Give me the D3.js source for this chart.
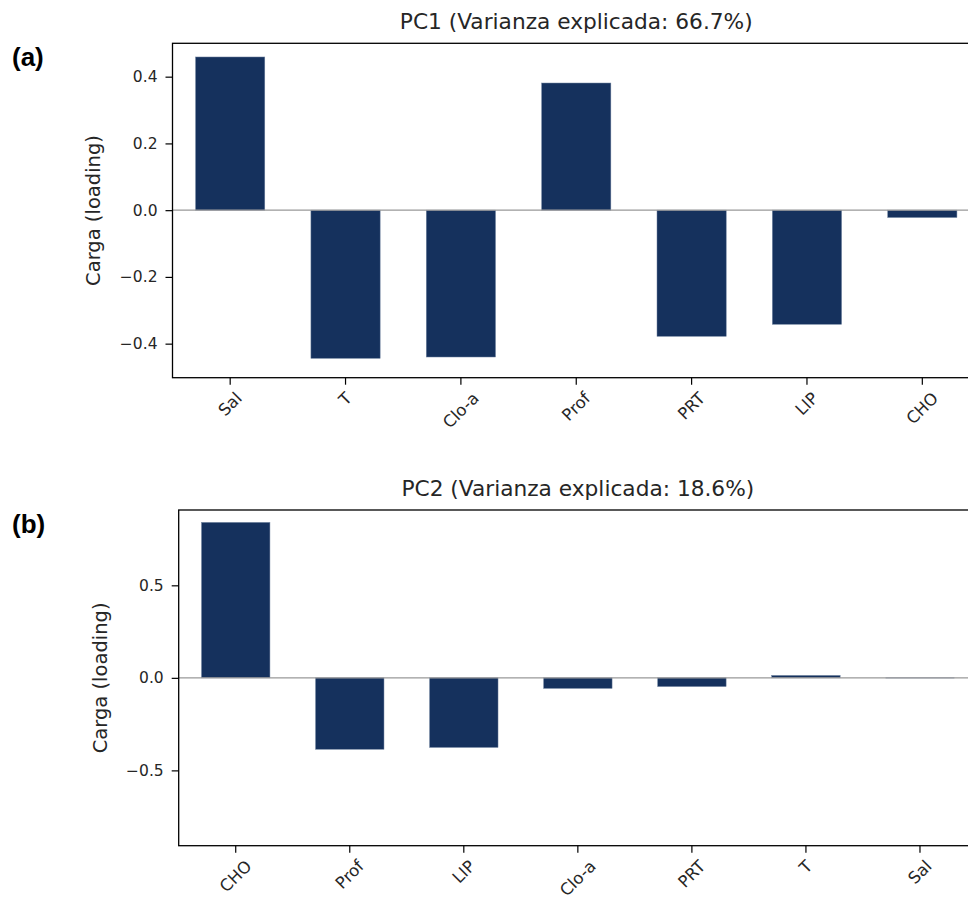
<!DOCTYPE html>
<html>
<head>
<meta charset="utf-8">
<script src="https://cdn.jsdelivr.net/npm/d3@7"></script>
<style>
  html, body { margin: 0; padding: 0; background: #fff; }
  svg { display: block; }
</style>
</head>
<body>
<svg id="chart" width="968" height="899"></svg>
<script>
// ---- Data ----
const pc1Categories = ["Sal", "T", "Clo-a", "Prof", "PRT", "LIP", "CHO"];
const pc1Values = [0.459, -0.444, -0.440, 0.381, -0.378, -0.342, -0.022];
const pc1Title = "PC1 (Varianza explicada: 66.7%)";
const pc1Ticks = [-0.4, -0.2, 0.0, 0.2, 0.4];
const pc1Domain = [-0.502, 0.5];

const pc2Categories = ["CHO", "Prof", "LIP", "Clo-a", "PRT", "T", "Sal"];
const pc2Values = [0.840, -0.386, -0.376, -0.057, -0.047, 0.013, -0.001];
const pc2Title = "PC2 (Varianza explicada: 18.6%)";
const pc2Ticks = [-0.5, 0.0, 0.5];
const pc2Domain = [-0.907, 0.907];

const yLabel = "Carga (loading)";
const panelLabels = ["(a)", "(b)"];

// ---- Drawing ----
const svg = d3.select("#chart");
const barColor = "#15315d";
const textColor = "#262626";
const fmt = v => (v < 0 ? "\u2212" : "") + Math.abs(v).toFixed(1);

function drawPanel(cfg) {
  const { left, right, top, bottom, cats, vals, ticks, domain, title, label, ylabX } = cfg;
  const g = svg.append("g");
  const x = d3.scaleBand().domain(cats).range([left, right]).paddingInner(0.4).paddingOuter(0.2);
  const y = d3.scaleLinear().domain(domain).range([bottom, top]);

  // bars
  g.selectAll("rect.bar").data(vals).enter().append("rect")
    .attr("class", "bar")
    .attr("x", (d, i) => x(cats[i]))
    .attr("width", x.bandwidth())
    .attr("y", d => Math.min(y(d), y(0)))
    .attr("height", d => Math.abs(y(d) - y(0)))
    .attr("fill", barColor)
    .attr("stroke", "#6f819e")
    .attr("stroke-width", 0.5);

  // zero line
  g.append("line")
    .attr("x1", left).attr("x2", right)
    .attr("y1", y(0)).attr("y2", y(0))
    .attr("stroke", "#999").attr("stroke-width", 1.2);

  // frame
  g.append("rect")
    .attr("x", left).attr("y", top)
    .attr("width", right - left).attr("height", bottom - top)
    .attr("fill", "none").attr("stroke", "#000").attr("stroke-width", 1.3);

  // y axis
  const yAxis = d3.axisLeft(y).tickValues(ticks).tickFormat(fmt).tickSize(7).tickPadding(8);
  const ya = g.append("g").attr("transform", `translate(${left},0)`).call(yAxis);
  ya.select(".domain").remove();
  ya.selectAll(".tick line").attr("stroke", "#000").attr("stroke-width", 1.2);
  ya.selectAll(".tick text").attr("font-family", "DejaVu Sans").attr("font-size", 15.5).attr("fill", textColor);

  // x axis
  const xAxis = d3.axisBottom(x).tickSize(7).tickFormat("");
  const xa = g.append("g").attr("transform", `translate(0,${bottom})`).call(xAxis);
  xa.select(".domain").remove();
  xa.selectAll(".tick line").attr("stroke", "#000").attr("stroke-width", 1.2);

  // rotated x tick labels (centered bbox below tick)
  const fs = 16.5;
  const y0 = bottom + 7 + 6;
  cats.forEach(c => {
    const t = g.append("text")
      .attr("font-family", "DejaVu Sans").attr("font-size", fs).attr("fill", textColor)
      .attr("text-anchor", "middle").attr("dominant-baseline", "central")
      .text(c);
    const w = t.node().getComputedTextLength();
    const h = fs * 0.8;
    const cy = y0 + (w + h) / (2 * Math.SQRT2);
    t.attr("transform", `translate(${x(c) + x.bandwidth() / 2},${cy}) rotate(-45)`);
  });

  // title
  g.append("text")
    .attr("x", (left + right) / 2).attr("y", top - 14)
    .attr("text-anchor", "middle")
    .attr("font-family", "DejaVu Sans").attr("font-size", 21.7).attr("fill", textColor)
    .text(title);

  // y label
  g.append("text")
    .attr("transform", `translate(${ylabX},${(top + bottom) / 2}) rotate(-90)`)
    .attr("text-anchor", "middle").attr("dominant-baseline", "central")
    .attr("font-family", "DejaVu Sans").attr("font-size", 19.5).attr("fill", textColor)
    .text(yLabel);

  // panel label
  g.append("text")
    .attr("x", 12).attr("y", top + 23)
    .attr("font-family", "Liberation Sans, Arial, sans-serif").attr("font-weight", "bold")
    .attr("font-size", 26).attr("fill", "#000")
    .text(label);
}

drawPanel({ left: 172.5, right: 980, top: 43.3, bottom: 377.7, cats: pc1Categories, vals: pc1Values,
  ticks: pc1Ticks, domain: pc1Domain, title: pc1Title, label: panelLabels[0], ylabX: 93 });
drawPanel({ left: 178.7, right: 977, top: 510, bottom: 845.7, cats: pc2Categories, vals: pc2Values,
  ticks: pc2Ticks, domain: pc2Domain, title: pc2Title, label: panelLabels[1], ylabX: 100 });
</script>
</body>
</html>
